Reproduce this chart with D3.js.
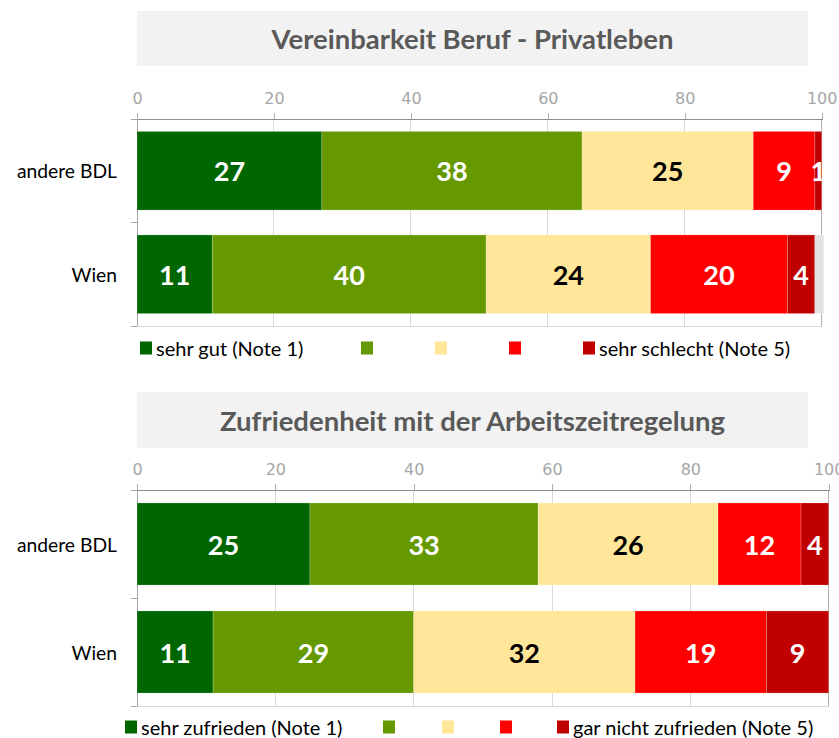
<!DOCTYPE html>
<html><head><meta charset="utf-8">
<script src="https://cdn.jsdelivr.net/npm/d3@7"></script>
<style>body{margin:0;background:#fff}svg{display:block}</style>
</head><body>
<svg id="c" width="839" height="738"></svg>
<script>
// ---- data ----
const categories = ["andere BDL", "Wien"];
const xTicks = [0, 20, 40, 60, 80, 100];
const colors = ["#006600", "#669900", "#ffe699", "#ff0000", "#c00000", "#e3e3e3"];
const labelColors = ["#fff", "#fff", "#000", "#fff", "#fff", null];

const title1 = "Vereinbarkeit Beruf - Privatleben";
const legend1 = ["sehr gut (Note 1)", "", "", "", "sehr schlecht (Note 5)"];
const c1_note1 = [27, 11];
const c1_note2 = [38, 40];
const c1_note3 = [25, 24];
const c1_note4 = [9, 20];
const c1_note5 = [1, 4];
const c1_rest  = [0, 1.3];

const title2 = "Zufriedenheit mit der Arbeitszeitregelung";
const legend2 = ["sehr zufrieden (Note 1)", "", "", "", "gar nicht zufrieden (Note 5)"];
const c2_note1 = [25, 11];
const c2_note2 = [33, 29];
const c2_note3 = [26, 32];
const c2_note4 = [12, 19];
const c2_note5 = [4, 9];
const c2_rest  = [0, 0];

const svg = d3.select("#c");
const FONT = "Lato, 'Open Sans', sans-serif";

function drawChart(o) {
  const g = svg.append("g");
  // title box
  g.append("rect").attr("x", o.boxX0).attr("y", o.boxY0)
    .attr("width", o.boxX1 - o.boxX0).attr("height", o.boxY1 - o.boxY0).attr("fill", "#f2f2f2");
  g.append("text").attr("x", (o.boxX0 + o.boxX1) / 2).attr("y", (o.boxY0 + o.boxY1) / 2)
    .attr("text-anchor", "middle").attr("dominant-baseline", "central")
    .attr("font-family", FONT).attr("font-weight", 700).attr("font-size", 27.5)
    .attr("fill", "#595959").text(o.title);

  const x = d3.scaleLinear().domain([0, 100]).range([o.x0, o.x1]);
  const y = d3.scaleBand().domain(categories).range([o.y0, o.y1]).paddingInner(0.24).paddingOuter(0.12);

  // gridlines
  g.append("g").selectAll("line").data(xTicks).join("line")
    .attr("x1", d => x(d)).attr("x2", d => x(d)).attr("y1", o.y0).attr("y2", o.y1)
    .attr("stroke", d => d === 100 ? "#b0b0b0" : "#d9d9d9").attr("stroke-width", 1)
    .attr("shape-rendering", "crispEdges");
  // bottom line
  g.append("line").attr("x1", o.x0 - 6).attr("x2", o.x1).attr("y1", o.y1).attr("y2", o.y1)
    .attr("stroke", "#d9d9d9").attr("shape-rendering", "crispEdges");
  // top axis
  const ax = d3.axisTop(x).tickValues(xTicks).tickSize(6).tickPadding(9);
  const axG = g.append("g").attr("transform", `translate(0,${o.y0})`).call(ax);
  axG.select(".domain").attr("stroke", "#8c8c8c").attr("shape-rendering", "crispEdges");
  axG.selectAll(".tick line").attr("stroke", "#b0b0b0").attr("shape-rendering", "crispEdges");
  axG.selectAll(".tick text").attr("fill", "#a6a6a6").attr("font-family", "'DejaVu Sans', sans-serif")
    .attr("font-size", 16);
  // left category axis
  const bounds = [o.y0, (o.y0 + o.y1) / 2, o.y1];
  g.append("line").attr("x1", o.x0).attr("x2", o.x0).attr("y1", o.y0).attr("y2", o.y1)
    .attr("stroke", "#a6a6a6").attr("shape-rendering", "crispEdges");
  g.append("g").selectAll("line").data(bounds).join("line")
    .attr("x1", o.x0 - 6).attr("x2", o.x0).attr("y1", d => d).attr("y2", d => d)
    .attr("stroke", "#a6a6a6").attr("shape-rendering", "crispEdges");
  g.append("g").selectAll("text").data(categories).join("text")
    .attr("x", o.x0 - 20).attr("y", d => y(d) + y.bandwidth() / 2)
    .attr("text-anchor", "end").attr("dominant-baseline", "central")
    .attr("font-family", FONT).attr("font-size", 19.3).attr("fill", "#000").text(d => d);

  // stacked bars
  const keys = o.series.map((s, i) => i);
  const rows = categories.map((c, ci) => {
    const r = { cat: c };
    o.series.forEach((s, i) => r[i] = s[ci]);
    return r;
  });
  const stacked = d3.stack().keys(keys)(rows);
  const clipId = "clip" + o.y0;
  g.append("clipPath").attr("id", clipId).append("rect")
    .attr("x", o.x0).attr("y", o.y0).attr("width", o.x1 - o.x0).attr("height", o.y1 - o.y0);
  stacked.forEach((layer, i) => {
    const lg = g.append("g");
    lg.selectAll("rect").data(layer.filter(d => d[1] - d[0] > 0)).join("rect")
      .attr("x", d => x(d[0])).attr("width", d => x(d[1]) - x(d[0]))
      .attr("y", d => y(d.data.cat)).attr("height", y.bandwidth())
      .attr("fill", colors[i]).attr("stroke", "rgba(255,255,255,0.25)").attr("stroke-width", 0.8);
    if (labelColors[i]) {
      g.append("g").attr("clip-path", `url(#${clipId})`)
        .selectAll("text").data(layer.filter(d => d[1] - d[0] > 0)).join("text")
        .attr("x", d => (x(d[0]) + x(d[1])) / 2).attr("y", d => y(d.data.cat) + y.bandwidth() / 2)
        .attr("text-anchor", "middle").attr("dominant-baseline", "central")
        .attr("font-family", FONT).attr("font-weight", 700).attr("font-size", 27)
        .attr("fill", labelColors[i]).text(d => Math.round(d[1] - d[0]));
    }
  });

  // legend
  const lgG = g.append("g");
  o.legend.forEach((t, i) => {
    const lx = o.legendX[i];
    lgG.append("rect").attr("x", lx).attr("y", o.legendY - 6.5).attr("width", 12).attr("height", 13)
      .attr("fill", colors[i]);
    if (t) lgG.append("text").attr("x", lx + 16).attr("y", o.legendY)
      .attr("dominant-baseline", "central").attr("font-family", FONT).attr("font-size", 20)
      .attr("fill", "#000").text(t);
  });
}

drawChart({
  title: title1, boxX0: 137, boxX1: 808, boxY0: 11, boxY1: 66,
  x0: 137, x1: 821.7, y0: 119, y1: 326,
  series: [c1_note1, c1_note2, c1_note3, c1_note4, c1_note5, c1_rest],
  legend: legend1, legendX: [140, 361, 435, 509, 583], legendY: 348
});
drawChart({
  title: title2, boxX0: 137, boxX1: 808, boxY0: 392, boxY1: 448,
  x0: 137, x1: 828.7, y0: 490, y1: 706,
  series: [c2_note1, c2_note2, c2_note3, c2_note4, c2_note5, c2_rest],
  legend: legend2, legendX: [125, 383, 442, 500, 557], legendY: 727
});
</script>
</body></html>
